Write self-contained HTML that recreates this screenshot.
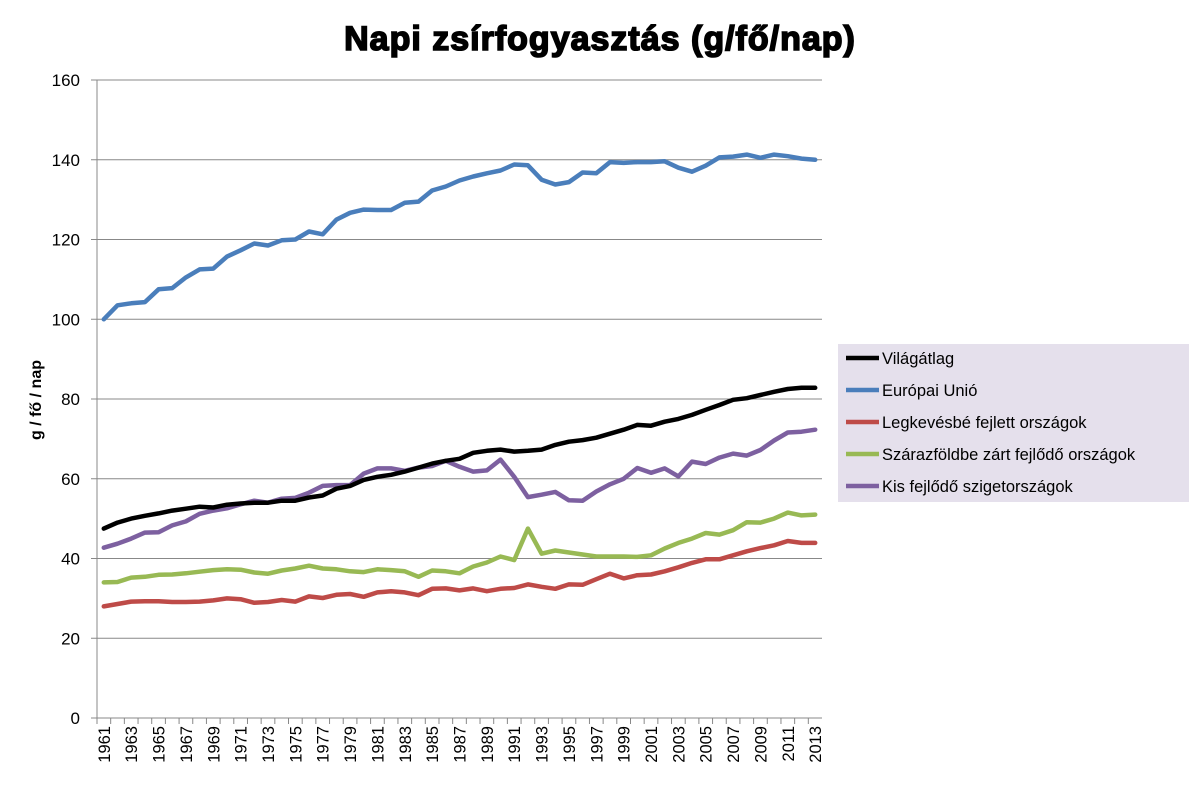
<!DOCTYPE html>
<html><head><meta charset="utf-8"><style>
body{margin:0;background:#fff;font-family:"Liberation Sans",Arial,sans-serif}
svg text{font-family:"Liberation Sans",Arial,sans-serif}
</style></head><body>
<svg id="chart" width="1200" height="785" xmlns="http://www.w3.org/2000/svg">
<text x="600" y="50" text-anchor="middle" font-size="34" font-weight="bold" stroke="#000" stroke-width="1.6" letter-spacing="1">Napi zsírfogyasztás (g/fő/nap)</text>
<text transform="translate(41,400) rotate(-90)" text-anchor="middle" font-size="16" font-weight="bold">g / fő / nap</text>
<g id="grid"></g><g id="lines"></g><g id="xlabels"></g>
<g>
<rect x="838" y="344" width="351" height="158" fill="#e5e0ec"/>
<g id="legend"></g>
</g>
</svg>
<script>
const years=[];for(let y=1961;y<=2013;y++)years.push(y);
const yTicks=[0,20,40,60,80,100,120,140,160];
const seriesNames=["Világátlag","Európai Unió","Legkevésbé fejlett országok","Szárazföldbe zárt fejlődő országok","Kis fejlődő szigetországok"];
const seriesColors=["#000000","#4a7ebb","#be4b48","#98b954","#7d60a0"];
const world=[47.5,49,50,50.7,51.3,52,52.5,53,52.8,53.5,53.8,54,54,54.5,54.5,55.3,55.8,57.5,58.2,59.7,60.5,61,61.8,62.8,63.8,64.5,65,66.5,67,67.3,66.8,67,67.3,68.5,69.3,69.7,70.3,71.3,72.3,73.5,73.3,74.3,75,76,77.3,78.5,79.8,80.2,81,81.8,82.5,82.8,82.8];
const eu=[100,103.5,104,104.3,107.5,107.8,110.5,112.5,112.7,115.7,117.3,119,118.5,119.8,120,122,121.3,125,126.7,127.5,127.4,127.4,129.2,129.5,132.3,133.3,134.8,135.8,136.6,137.3,138.8,138.6,135,133.8,134.4,136.8,136.6,139.4,139.2,139.4,139.4,139.6,138,137,138.5,140.6,140.8,141.3,140.5,141.3,140.9,140.3,140];
const ldc=[28,28.6,29.2,29.3,29.3,29.1,29.1,29.2,29.5,30,29.8,28.9,29.1,29.6,29.2,30.5,30.1,30.9,31.1,30.4,31.5,31.8,31.5,30.8,32.4,32.5,32,32.5,31.8,32.4,32.6,33.5,32.9,32.4,33.5,33.4,34.8,36.2,35,35.8,36,36.8,37.8,38.9,39.8,39.8,40.8,41.8,42.6,43.3,44.4,43.9,43.9];
const lldc=[34,34.1,35.2,35.4,35.9,36,36.3,36.7,37.1,37.3,37.2,36.5,36.2,37,37.5,38.2,37.5,37.3,36.8,36.6,37.3,37.1,36.8,35.4,37,36.8,36.3,38,39,40.5,39.6,47.5,41.2,42,41.5,41,40.5,40.5,40.5,40.4,40.8,42.5,43.9,45,46.4,46,47.1,49.1,49,50,51.5,50.8,51];
const sids=[42.7,43.7,45,46.5,46.6,48.3,49.3,51.2,52,52.6,53.6,54.5,54,55,55.2,56.5,58.2,58.4,58.4,61.3,62.6,62.6,62,62.8,63.2,64.5,63,61.8,62.1,64.8,60.5,55.4,56,56.7,54.6,54.5,56.8,58.6,60,62.7,61.5,62.6,60.6,64.3,63.7,65.3,66.3,65.8,67.2,69.6,71.6,71.8,72.3];
const series=[world,eu,ldc,lldc,sids];
const L=97,R=822,T=80,B=718,MAX=160;
const NS="http://www.w3.org/2000/svg";
const cw=(R-L)/years.length;
const xs=i=>L+cw*(i+0.5);
const ys=v=>B-(v/MAX)*(B-T);
function mk(t,a,p){const e=document.createElementNS(NS,t);for(const k in a)e.setAttribute(k,a[k]);p.appendChild(e);return e;}
const grid=document.getElementById('grid');
yTicks.forEach(v=>{
 const ln=mk('line',{x1:L-6,x2:R,y1:ys(v),y2:ys(v),stroke:'#888','stroke-width':1},grid);
 
 
 const t=mk('text',{x:80,y:ys(v)+6,'text-anchor':'end','font-size':17,fill:'#000'},grid);
 t.textContent=v;
 
 
});
const ax=mk('line',{x1:L,x2:L,y1:T,y2:B,stroke:'#888','stroke-width':1},grid);


const xl=document.getElementById('xlabels');
years.forEach((y,i)=>{
 const tk=mk('line',{x1:L+cw*i,x2:L+cw*i,y1:B,y2:B+6,stroke:'#888'},xl);
 
 
 if(i%2===0){
  const t=mk('text',{transform:`translate(${xs(i)+6},${B+8}) rotate(-90)`,'text-anchor':'end','font-size':16.5},xl);
  t.textContent=y;
  
  
 }
});
const lg=document.getElementById('lines');
const order=[1,2,3,4,0];
order.forEach(s=>{
 const d=series[s].map((v,i)=>(i?'L':'M')+xs(i).toFixed(1)+','+ys(v).toFixed(1)).join('');
 const p=mk('path',{d:d,fill:'none',stroke:seriesColors[s],'stroke-width':4.5,'stroke-linejoin':'round','stroke-linecap':'round'},lg);
 
 
});
const leg=document.getElementById('legend');
seriesNames.forEach((n,i)=>{
 const y=358+i*32;
 const l=mk('line',{x1:846,x2:879,y1:y,y2:y,stroke:seriesColors[i],'stroke-width':4.5},leg);
 
 
 const t=mk('text',{x:882,y:y+6,'font-size':16.5},leg);
 t.textContent=n;
 
 
});
</script>
</body></html>
